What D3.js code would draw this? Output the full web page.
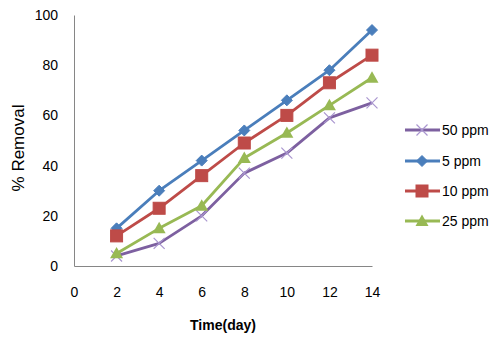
<!DOCTYPE html>
<html>
<head>
<meta charset="utf-8">
<script src="https://cdn.jsdelivr.net/npm/d3@7"></script>
<style>
html,body{margin:0;padding:0;background:#fff;}
svg{display:block;font-family:"Liberation Sans",Arial,sans-serif;}
</style>
</head>
<body>
<svg id="chart" width="500" height="345"></svg>
<script>
const days = [2, 4, 6, 8, 10, 12, 14];
const xTicks = [0, 2, 4, 6, 8, 10, 12, 14];
const yTicks = [0, 20, 40, 60, 80, 100];
const seriesNames = ["50 ppm", "5 ppm", "10 ppm", "25 ppm"];
const ppm50 = [4, 9, 20, 37, 45, 59, 65];
const ppm5 = [15, 30, 42, 54, 66, 78, 94];
const ppm10 = [12, 23, 36, 49, 60, 73, 84];
const ppm25 = [5, 15, 24, 43, 53, 64, 75];
const seriesValues = [ppm50, ppm5, ppm10, ppm25];
const colors = ["#7D60A0", "#4A7EBB", "#BE4B48", "#98B954"];
const markers = ["cross", "diamond", "square", "triangle"];

const svg = d3.select("#chart");
const x = d3.scaleLinear().domain([0, 14]).range([74, 372]);
const y = d3.scaleLinear().domain([0, 100]).range([266, 15]);

// axes
const xAxis = svg.append("g").attr("transform", "translate(0,266)")
  .call(d3.axisBottom(x).tickValues(xTicks).tickSize(0).tickPadding(20));
const yAxis = svg.append("g").attr("transform", "translate(74,0)")
  .call(d3.axisLeft(y).tickValues(yTicks).tickSize(0).tickPadding(16));
[xAxis, yAxis].forEach(g => {
  g.select(".domain").attr("stroke", "#868686").attr("stroke-width", 1);
  g.selectAll("text").attr("font-size", 14).attr("fill", "#000")
    .attr("font-family", "'Liberation Sans', Arial, sans-serif");
});
xAxis.selectAll("text").attr("dy", "0.32em").attr("y", 27);

// titles
svg.append("text").attr("x", 223).attr("y", 330).attr("text-anchor", "middle")
  .attr("font-size", 14).attr("font-weight", "bold").text("Time(day)");
svg.append("text").attr("transform", "translate(24,148) rotate(-90)")
  .attr("text-anchor", "middle").attr("font-size", 17).text("% Removal");

function drawMarker(g, type, color, cx, cy) {
  if (type === "diamond") {
    const s = 5.5;
    g.append("path").attr("d", `M${cx},${cy - s}L${cx + s},${cy}L${cx},${cy + s}L${cx - s},${cy}Z`)
      .attr("fill", color).attr("stroke", color);
  } else if (type === "square") {
    g.append("rect").attr("x", cx - 6).attr("y", cy - 6).attr("width", 12).attr("height", 12)
      .attr("fill", color).attr("stroke", "#BE4B48");
  } else if (type === "triangle") {
    const s = 6.5;
    g.append("path").attr("d", `M${cx},${cy - s}L${cx + s},${cy + s * 0.75}L${cx - s},${cy + s * 0.75}Z`)
      .attr("fill", color);
  } else {
    const s = 5.5;
    g.append("path").attr("d", `M${cx - s},${cy - s}L${cx + s},${cy + s}M${cx - s},${cy + s}L${cx + s},${cy - s}`)
      .attr("stroke", "#A996CF").attr("stroke-width", 1.2).attr("fill", "none");
  }
}

const line = d3.line().x(d => x(d[0])).y(d => y(d[1]));
seriesValues.forEach((vals, i) => {
  const g = svg.append("g");
  const pts = days.map((d, j) => [d, vals[j]]);
  g.append("path").attr("d", line(pts)).attr("fill", "none")
    .attr("stroke", colors[i]).attr("stroke-width", 2.8).attr("stroke-linejoin", "round");
  pts.forEach(p => drawMarker(g, markers[i], colors[i], x(p[0]), y(p[1])));
});

// legend
const legY = [130, 161, 191, 221];
seriesNames.forEach((name, i) => {
  const g = svg.append("g");
  g.append("line").attr("x1", 405).attr("x2", 440).attr("y1", legY[i]).attr("y2", legY[i])
    .attr("stroke", colors[i]).attr("stroke-width", 2.8);
  drawMarker(g, markers[i], colors[i], 422, legY[i]);
  g.append("text").attr("x", 442).attr("y", legY[i]).attr("dy", "0.35em")
    .attr("font-size", 14).text(name);
});
</script>
</body>
</html>
